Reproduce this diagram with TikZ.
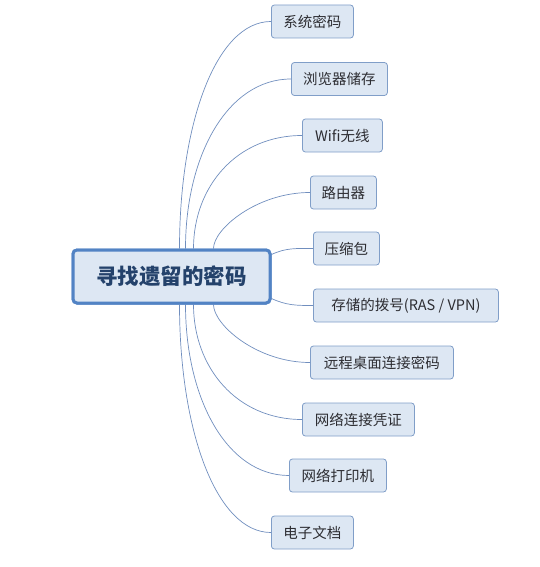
\documentclass[tikz,border=0pt]{standalone}
\usepackage{fontspec}
\setmainfont{Noto Sans CJK SC}
\usetikzlibrary{calc}
\definecolor{linec}{RGB}{112,142,190}
\definecolor{boxfill}{RGB}{221,231,243}
\definecolor{boxdraw}{RGB}{128,158,200}
\definecolor{mainfill}{RGB}{221,231,243}
\definecolor{maindraw}{RGB}{82,131,196}
\definecolor{maintext}{RGB}{36,66,107}
\definecolor{childtext}{RGB}{45,45,50}
\tikzset{
  child/.style={draw=boxdraw, fill=boxfill, rounded corners=3pt, line width=0.8pt,
    minimum height=33pt, inner sep=0pt, anchor=west, text=childtext,
    font=\fontsize{14.5}{17}\selectfont},
  mainbox/.style={draw=maindraw, fill=mainfill, rounded corners=4pt, line width=3pt,
    minimum width=197pt, minimum height=53pt, inner sep=0pt, text=maintext,
    font=\fontsize{21.5}{25}\selectfont\bfseries},
  conn/.style={draw=linec, line width=0.7pt}
}
\newcommand{\curveup}[4]{\draw[conn] (#1) .. controls ($(#1)!#3!(#1|-#2)$) and ($(#2)!#4!(#1|-#2)$) .. (#2);}
\begin{document}
\begin{tikzpicture}[x=1pt,y=-1pt]
\useasboundingbox (0,0) rectangle (539,567);
% children
\node[child, minimum width=82pt]  (n1)  at (271,21.5) {系统密码};
\node[child, minimum width=96pt]  (n2)  at (291,79) {浏览器储存};
\node[child, minimum width=80pt]  (n3)  at (302,135.5) {Wifi无线};
\node[child, minimum width=66pt]  (n4)  at (310,192.5) {路由器};
\node[child, minimum width=66pt]  (n5)  at (313,248.5) {压缩包};
\node[child, minimum width=185pt] (n6)  at (313,305.5) {存储的拨号(RAS / VPN)};
\node[child, minimum width=143pt] (n7)  at (310,362.5) {远程桌面连接密码};
\node[child, minimum width=112pt] (n8)  at (302,419.5) {网络连接凭证};
\node[child, minimum width=97pt]  (n9)  at (289,475.5) {网络打印机};
\node[child, minimum width=82pt]  (n10) at (271,532.5) {电子文档};
% central
\node[mainbox] (c) at (171.5,276.5) {寻找遗留的密码};
% start points
\coordinate (s1) at ($(c.north west)+(108,0)$);
\coordinate (s2) at ($(c.north west)+(114,0)$);
\coordinate (s3) at ($(c.north west)+(122,0)$);
\coordinate (s4) at ($(c.north west)+(142,0)$);
\coordinate (s5) at ($(c.north east)+(0,6)$);
\coordinate (s6) at ($(c.south east)+(0,-6)$);
\coordinate (s7) at ($(c.south west)+(142,0)$);
\coordinate (s8) at ($(c.south west)+(122,0)$);
\coordinate (s9) at ($(c.south west)+(114,0)$);
\coordinate (s10) at ($(c.south west)+(108,0)$);
\curveup{s1}{n1.west}{0.55}{0.6}
\curveup{s2}{n2.west}{0.55}{0.6}
\curveup{s3}{n3.west}{0.55}{0.6}
\curveup{s4}{n4.west}{0.35}{0.55}
\draw[conn] (s5) to[out=25,in=180] (n5.west);
\draw[conn] (s6) to[out=-25,in=180] (n6.west);
\curveup{s7}{n7.west}{0.35}{0.55}
\curveup{s8}{n8.west}{0.55}{0.6}
\curveup{s9}{n9.west}{0.55}{0.6}
\curveup{s10}{n10.west}{0.55}{0.6}
% redraw central on top
\node[mainbox] at (c.center) {寻找遗留的密码};
\end{tikzpicture}
\end{document}
